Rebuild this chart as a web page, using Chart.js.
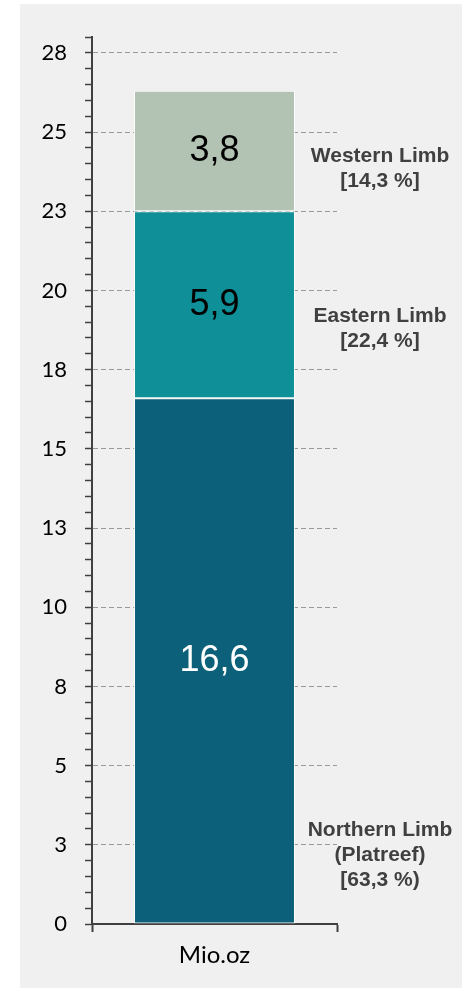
<!DOCTYPE html>
<html>
<head>
<meta charset="utf-8">
<script src="https://cdn.jsdelivr.net/npm/chart.js@4.4.1/dist/chart.umd.min.js"></script>
<style>
  body { margin: 0; background: #ffffff; }
  #wrap { position: absolute; left: 20px; top: 4px; width: 442px; height: 984px; background: #f0f0f0; }
</style>
</head>
<body>
<div id="wrap"><canvas id="chart" width="442" height="984"></canvas></div>
<script>
// ==================== DATA ====================
const categories = ['Mio.oz'];
const limbs = ['Northern Limb', 'Eastern Limb', 'Western Limb'];
const resources = [16.6, 5.9, 3.8];          // Mio.oz per limb, stacked bottom to top
const sideLabels = [
    ['Northern Limb', '(Platreef)', '[63,3 %)'],
    ['Eastern Limb', '[22,4 %]'],
    ['Western Limb', '[14,3 %]']
];
const axisMax = 28;
const majorStep = 2.5;
const minorStep = 0.5;

const barColors = ['#0c6079', '#0f8f97', '#b2c2b3'];
const valueColors = ['#ffffff', '#000000', '#000000'];

const fmt = v => v.toFixed(1).replace('.', ',');
const isMajor = v => Math.abs(v / majorStep - Math.round(v / majorStep)) < 1e-6;

// value labels in the middle of each segment
const valueLabels = {
    id: 'valueLabels',
    afterDatasetsDraw(chart) {
        const ctx = chart.ctx;
        ctx.save();
        ctx.font = '36px "Liberation Sans", Arial, sans-serif';
        ctx.textAlign = 'center';
        ctx.textBaseline = 'middle';
        chart.data.datasets.forEach((ds, i) => {
            const bar = chart.getDatasetMeta(i).data[0];
            ctx.fillStyle = valueColors[i];
            ctx.fillText(fmt(ds.data[0]), bar.x, (bar.y + bar.base) / 2);
        });
        ctx.restore();
    }
};

// limb names to the right of the bar
const sideText = {
    id: 'sideText',
    afterDraw(chart, args, opts) {
        const ctx = chart.ctx;
        const y = chart.scales.y;
        const x = chart.chartArea.right + 43;
        ctx.save();
        ctx.font = 'bold 21px "Liberation Sans", Arial, sans-serif';
        ctx.fillStyle = '#404040';
        ctx.textAlign = 'center';
        ctx.textBaseline = 'middle';
        sideLabels.forEach((lines, i) => {
            const cy = y.getPixelForValue(opts.anchors[i]);
            lines.forEach((line, j) => {
                ctx.fillText(line, x, cy + (j - (lines.length - 1) / 2) * 25);
            });
        });
        ctx.restore();
    }
};

new Chart(document.getElementById('chart'), {
    type: 'bar',
    data: {
        labels: categories,
        datasets: limbs.map((name, i) => ({
            label: name,
            data: [resources[i]],
            backgroundColor: barColors[i],
            borderColor: 'rgba(255,255,255,0.85)',
            borderWidth: 1,
            borderSkipped: false,
            barPercentage: 0.657,
            categoryPercentage: 1
        }))
    },
    options: {
        responsive: false,
        animation: false,
        layout: { padding: { top: 33, right: 125, left: 0, bottom: 0 } },
        plugins: {
            legend: { display: false },
            tooltip: { enabled: false },
            sideText: { anchors: [2.18, 18.78, 23.85] }
        },
        scales: {
            x: {
                stacked: true,
                grid: { drawOnChartArea: false, drawTicks: true, tickLength: 8, tickColor: '#404040', tickWidth: 2 },
                border: { display: true, color: '#404040', width: 2 },
                ticks: { color: '#000000', font: { family: 'Lato', size: 24 }, padding: 9 },
                afterFit: s => { s.height = 64; s.paddingLeft = 0; s.paddingRight = 0; }
            },
            y: {
                stacked: true,
                min: 0,
                max: axisMax,
                grid: {
                    color: c => isMajor(c.tick.value) && c.tick.value > 0 ? '#9a9a9a' : 'rgba(0,0,0,0)',
                    lineWidth: 1,
                    tickLength: 7,
                    tickColor: '#404040',
                    tickWidth: 1.5
                },
                border: { display: true, color: '#404040', width: 2, dash: [5, 3] },
                ticks: {
                    stepSize: minorStep,
                    autoSkip: false,
                    color: '#000000',
                    font: { family: 'Lato', size: 22 },
                    padding: 18,
                    callback: v => isMajor(v) ? String(Math.round(v)) : ''
                },
                afterFit: s => { s.width = 72; s.paddingTop = 0; s.paddingBottom = 0; }
            }
        }
    },
    plugins: [valueLabels, sideText]
});
</script>
</body>
</html>
